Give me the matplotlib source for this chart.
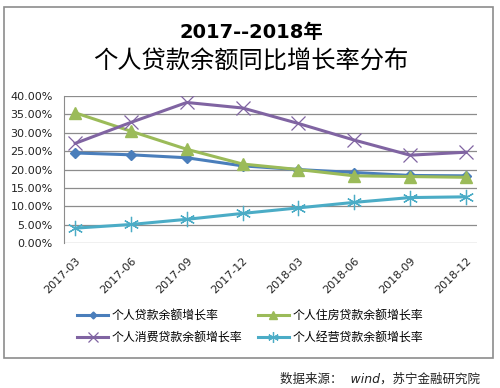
import matplotlib
matplotlib.use('Agg')
import matplotlib.pyplot as plt
from matplotlib.patches import Rectangle
from matplotlib.ticker import FuncFormatter

plt.rcParams['font.family'] = ['DejaVu Sans', 'Noto Sans CJK SC']

# 数据
quarters = ['2017-03', '2017-06', '2017-09', '2017-12',
            '2018-03', '2018-06', '2018-09', '2018-12']
personal = [24.5, 24.0, 23.2, 21.0, 20.0, 19.2, 18.4, 18.3]
housing = [35.4, 30.4, 25.5, 21.5, 20.0, 18.3, 18.1, 17.9]
consumer = [27.1, 32.8, 38.2, 36.7, 32.5, 28.0, 23.9, 24.7]
business = [4.1, 5.1, 6.5, 8.1, 9.6, 11.1, 12.4, 12.6]
series_names = ['个人贷款余额增长率', '个人住房贷款余额增长率',
                '个人消费贷款余额增长率', '个人经营贷款余额增长率']

fig = plt.figure(figsize=(5, 3.88), dpi=100)
ax = fig.add_axes([0.128, 0.373, 0.826, 0.380])

x = range(len(quarters))
l1, = ax.plot(x, personal, color='#4a7ebb', lw=2.2, marker='D', ms=5)
l2, = ax.plot(x, housing, color='#9bbb59', lw=2.2, marker='^', ms=8)
l3, = ax.plot(x, consumer, color='#8064a2', lw=2.2, marker='x', ms=10, mew=0.9)
l4, = ax.plot(x, business, color='#4bacc6', lw=2.2, marker=(6, 2, 0), ms=11, mew=0.9)

ax.set_ylim(0, 40)
ax.set_yticks(range(0, 41, 5))
ax.yaxis.set_major_formatter(FuncFormatter(lambda v, p: '%.2f%%' % v))
ax.set_xlim(-0.2, len(quarters) - 0.8)
ax.set_xticks(list(x))
ax.set_xticklabels(quarters, rotation=45, ha='right', rotation_mode='anchor')
ax.tick_params(axis='both', length=0, labelsize=8, colors='#222222')
ax.tick_params(axis='x', pad=9)
ax.tick_params(axis='y', pad=8)
ax.grid(axis='y', color='#8c8c8c', lw=0.9)
ax.set_axisbelow(True)
for s in ['top', 'right', 'bottom']:
    ax.spines[s].set_visible(False)
ax.spines['left'].set_color('#8c8c8c')

# 图例按行排列：先填左列再填右列
fig.legend([l1, l3, l2, l4],
           [series_names[0], series_names[2], series_names[1], series_names[3]],
           loc='center', bbox_to_anchor=(0.5, 0.158), ncol=2, frameon=False,
           fontsize=8.6, handlelength=2.6, columnspacing=1.3, labelspacing=0.75,
           handletextpad=0.3, markerscale=0.7)

fig.text(0.502, 0.915, '2017--2018年', ha='center', va='center',
         fontsize=14, fontweight='bold')
fig.text(0.502, 0.840, '个人贷款余额同比增长率分布', ha='center', va='center',
         fontsize=17.5)
fig.text(0.96, 0.023, '数据来源：  wind，苏宁金融研究院', ha='right', va='center',
         fontsize=9, style='italic', color='#222222')

fig.patches.append(Rectangle((0.008, 0.077), 0.977, 0.905, transform=fig.transFigure,
                             fill=False, edgecolor='#8c8c8c', lw=1.2))

fig.savefig('out.png', dpi=100)
